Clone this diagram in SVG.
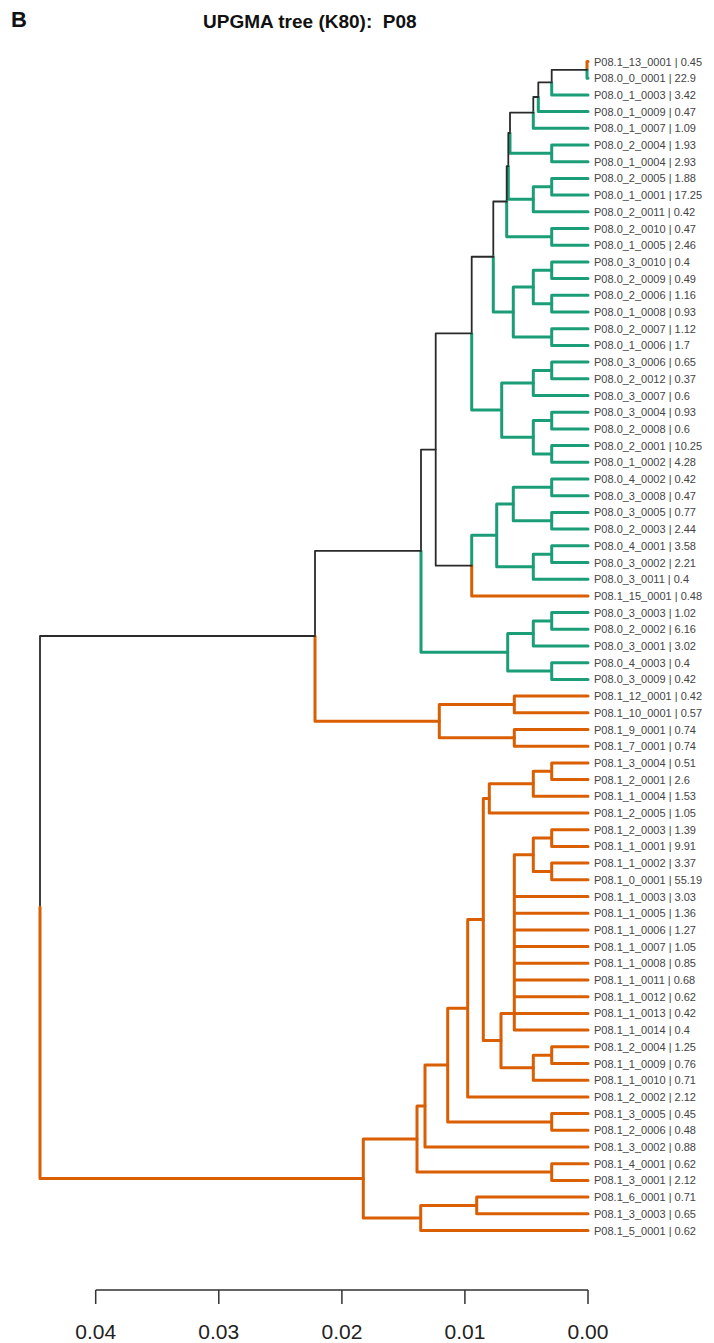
<svg xmlns="http://www.w3.org/2000/svg" width="714" height="1343" viewBox="0 0 714 1343">
<style>
.k{fill:none;stroke:#2a2a2a;stroke-width:1.8;stroke-linecap:round;stroke-linejoin:round}
.g{fill:none;stroke:#1B9E77;stroke-width:3;stroke-linecap:round;stroke-linejoin:round}
.o{fill:none;stroke:#D95F02;stroke-width:3;stroke-linecap:round;stroke-linejoin:round}
.lab{font-family:"Liberation Sans",Arial,sans-serif;font-size:11px;fill:#444}
.ttl{font-family:"Liberation Sans",Arial,sans-serif;font-weight:bold;fill:#111}
.ax{fill:none;stroke:#333;stroke-width:1.5}
.tk{font-family:"Liberation Sans",Arial,sans-serif;font-size:21px;fill:#222;text-anchor:middle}
</style>
<rect width="714" height="1343" fill="#fff"/>
<text class="ttl" x="11" y="27" font-size="22">B</text>
<text class="ttl" x="203" y="28" font-size="19" xml:space="preserve">UPGMA tree (K80):  P08</text>

<g id="connectors">
<!-- A -->
<path class="o" d="M587 69.85V61.5H588"/>
<path class="g" d="M587 69.85V78.2H588"/>
<!-- B -->
<path class="k" d="M551.7 82.4V69.85H587"/>
<path class="g" d="M551.7 82.4V94.9H588"/>
<!-- C -->
<path class="k" d="M538.3 97V82.4H551.7"/>
<path class="g" d="M538.3 97V111.6H588"/>
<!-- D -->
<path class="k" d="M533.3 112.65V97H538.3"/>
<path class="g" d="M533.3 112.65V128.3H588"/>
<!-- F -->
<path class="g" d="M551.7 153.35V145H588M551.7 153.35V161.7H588"/>
<!-- E -->
<path class="k" d="M510 133V112.65H533.3"/>
<path class="g" d="M510 133V153.35H551.7"/>
<!-- (8,9) and G -->
<path class="g" d="M551.7 186.75V178.4H588M551.7 186.75V195.1H588"/>
<path class="g" d="M533.3 199.28V186.75H551.7M533.3 199.28V211.8H588"/>
<!-- N1 -->
<path class="k" d="M508.3 166.14V133H510"/>
<path class="g" d="M508.3 166.14V199.28H533.3"/>
<!-- H -->
<path class="g" d="M551.7 236.85V228.5H588M551.7 236.85V245.2H588"/>
<!-- N2 -->
<path class="k" d="M506.7 201.5V166.14H508.3"/>
<path class="g" d="M506.7 201.5V236.85H551.7"/>
<!-- T1 -->
<path class="g" d="M551.7 270.25V261.9H588M551.7 270.25V278.6H588"/>
<path class="g" d="M551.7 303.65V295.3H588M551.7 303.65V312H588"/>
<path class="g" d="M533.3 286.95V270.25H551.7M533.3 286.95V303.65H551.7"/>
<path class="g" d="M551.7 337.05V328.7H588M551.7 337.05V345.4H588"/>
<path class="g" d="M513.3 312V286.95H533.3M513.3 312V337.05H551.7"/>
<!-- N3 -->
<path class="k" d="M493.3 256.75V201.5H506.7"/>
<path class="g" d="M493.3 256.75V312H513.3"/>
<!-- T2 -->
<path class="g" d="M551.7 370.45V362.1H588M551.7 370.45V378.8H588"/>
<path class="g" d="M533.3 382.98V370.45H551.7M533.3 382.98V395.5H588"/>
<path class="g" d="M551.7 420.55V412.2H588M551.7 420.55V428.9H588"/>
<path class="g" d="M551.7 453.95V445.6H588M551.7 453.95V462.3H588"/>
<path class="g" d="M533.3 437.25V420.55H551.7M533.3 437.25V453.95H551.7"/>
<path class="g" d="M501.7 410.1V382.98H533.3M501.7 410.1V437.25H533.3"/>
<!-- N4 -->
<path class="k" d="M471.7 333.43V256.75H493.3"/>
<path class="g" d="M471.7 333.43V410.1H501.7"/>
<!-- T3 -->
<path class="g" d="M551.7 487.35V479H588M551.7 487.35V495.7H588"/>
<path class="g" d="M551.7 520.75V512.4H588M551.7 520.75V529.1H588"/>
<path class="g" d="M513.3 504.05V487.35H551.7M513.3 504.05V520.75H551.7"/>
<path class="g" d="M551.7 554.15V545.8H588M551.7 554.15V562.5H588"/>
<path class="g" d="M533.3 566.68V554.15H551.7M533.3 566.68V579.2H588"/>
<path class="g" d="M496.7 535.36V504.05H513.3M496.7 535.36V566.68H533.3"/>
<!-- N6 -->
<path class="g" d="M471.7 565.63V535.36H496.7"/>
<path class="o" d="M471.7 565.63V595.9H588"/>
<!-- N5 -->
<path class="k" d="M435.7 449.53V333.43H471.7M435.7 449.53V565.63H471.7"/>
<!-- T4 -->
<path class="g" d="M551.7 620.95V612.6H588M551.7 620.95V629.3H588"/>
<path class="g" d="M533.3 633.48V620.95H551.7M533.3 633.48V646H588"/>
<path class="g" d="M551.7 671.05V662.7H588M551.7 671.05V679.4H588"/>
<path class="g" d="M507.7 652.26V633.48H533.3M507.7 652.26V671.05H551.7"/>
<!-- N7 -->
<path class="k" d="M421 550.9V449.53H435.7"/>
<path class="g" d="M421 550.9V652.26H507.7"/>
<!-- O1 -->
<path class="o" d="M514.3 704.45V696.1H588M514.3 704.45V712.8H588"/>
<path class="o" d="M514.3 737.85V729.5H588M514.3 737.85V746.2H588"/>
<path class="o" d="M439.3 721.15V704.45H514.3M439.3 721.15V737.85H514.3"/>
<!-- N8 -->
<path class="k" d="M315 636V550.9H421"/>
<path class="o" d="M315 636V721.15H439.3"/>
<!-- lower clade -->
<path class="o" d="M551.7 771.25V762.9H588M551.7 771.25V779.6H588"/>
<path class="o" d="M533.3 783.78V771.25H551.7M533.3 783.78V796.3H588"/>
<path class="o" d="M489.3 798.39V783.78H533.3M489.3 798.39V813H588"/>
<path class="o" d="M551.7 838.05V829.7H588M551.7 838.05V846.4H588"/>
<path class="o" d="M551.7 871.45V863.1H588M551.7 871.45V879.8H588"/>
<path class="o" d="M533.3 854.75V838.05H551.7M533.3 854.75V871.45H551.7"/>
<path class="o" d="M533.3 854.75H514.3V1030.1H588M514.3 896.5H588M514.3 913.2H588M514.3 929.9H588M514.3 946.6H588M514.3 963.3H588M514.3 980H588M514.3 996.7H588M514.3 1013.4H588"/>
<path class="o" d="M551.7 1055.15V1046.8H588M551.7 1055.15V1063.5H588"/>
<path class="o" d="M533.3 1067.68V1055.15H551.7M533.3 1067.68V1080.2H588"/>
<path class="o" d="M501 1040.54V1013.4H514.3M501 1040.54V1067.68H533.3"/>
<path class="o" d="M483.3 919.47V798.39H489.3M483.3 919.47V1040.54H501"/>
<path class="o" d="M467.7 1008.18V919.47H483.3M467.7 1008.18V1096.9H588"/>
<path class="o" d="M551.7 1121.95V1113.6H588M551.7 1121.95V1130.3H588"/>
<path class="o" d="M447.7 1065.07V1008.18H467.7M447.7 1065.07V1121.95H551.7"/>
<path class="o" d="M425 1106.03V1065.07H447.7M425 1106.03V1147H588"/>
<path class="o" d="M551.7 1172.05V1163.7H588M551.7 1172.05V1180.4H588"/>
<path class="o" d="M417 1139.04V1106.03H425M417 1139.04V1172.05H551.7"/>
<path class="o" d="M476.7 1205.45V1197.1H588M476.7 1205.45V1213.8H588"/>
<path class="o" d="M420.7 1217.98V1205.45H476.7M420.7 1217.98V1230.5H588"/>
<path class="o" d="M363.3 1178.51V1139.04H417M363.3 1178.51V1217.98H420.7"/>
<!-- root -->
<path class="k" d="M40 907.25V636H315"/>
<path class="o" d="M40 907.25V1178.51H363.3"/>
</g>

<g id="leaves">
<g id="leaf1"><text class="lab" x="594" y="65.5">P08.1_13_0001 | 0.45</text></g>
<g id="leaf2"><text class="lab" x="594" y="82.2">P08.0_0_0001 | 22.9</text></g>
<g id="leaf3"><text class="lab" x="594" y="98.9">P08.0_1_0003 | 3.42</text></g>
<g id="leaf4"><text class="lab" x="594" y="115.6">P08.0_1_0009 | 0.47</text></g>
<g id="leaf5"><text class="lab" x="594" y="132.3">P08.0_1_0007 | 1.09</text></g>
<g id="leaf6"><text class="lab" x="594" y="149">P08.0_2_0004 | 1.93</text></g>
<g id="leaf7"><text class="lab" x="594" y="165.7">P08.0_1_0004 | 2.93</text></g>
<g id="leaf8"><text class="lab" x="594" y="182.4">P08.0_2_0005 | 1.88</text></g>
<g id="leaf9"><text class="lab" x="594" y="199.1">P08.0_1_0001 | 17.25</text></g>
<g id="leaf10"><text class="lab" x="594" y="215.8">P08.0_2_0011 | 0.42</text></g>
<g id="leaf11"><text class="lab" x="594" y="232.5">P08.0_2_0010 | 0.47</text></g>
<g id="leaf12"><text class="lab" x="594" y="249.2">P08.0_1_0005 | 2.46</text></g>
<g id="leaf13"><text class="lab" x="594" y="265.9">P08.0_3_0010 | 0.4</text></g>
<g id="leaf14"><text class="lab" x="594" y="282.6">P08.0_2_0009 | 0.49</text></g>
<g id="leaf15"><text class="lab" x="594" y="299.3">P08.0_2_0006 | 1.16</text></g>
<g id="leaf16"><text class="lab" x="594" y="316">P08.0_1_0008 | 0.93</text></g>
<g id="leaf17"><text class="lab" x="594" y="332.7">P08.0_2_0007 | 1.12</text></g>
<g id="leaf18"><text class="lab" x="594" y="349.4">P08.0_1_0006 | 1.7</text></g>
<g id="leaf19"><text class="lab" x="594" y="366.1">P08.0_3_0006 | 0.65</text></g>
<g id="leaf20"><text class="lab" x="594" y="382.8">P08.0_2_0012 | 0.37</text></g>
<g id="leaf21"><text class="lab" x="594" y="399.5">P08.0_3_0007 | 0.6</text></g>
<g id="leaf22"><text class="lab" x="594" y="416.2">P08.0_3_0004 | 0.93</text></g>
<g id="leaf23"><text class="lab" x="594" y="432.9">P08.0_2_0008 | 0.6</text></g>
<g id="leaf24"><text class="lab" x="594" y="449.6">P08.0_2_0001 | 10.25</text></g>
<g id="leaf25"><text class="lab" x="594" y="466.3">P08.0_1_0002 | 4.28</text></g>
<g id="leaf26"><text class="lab" x="594" y="483">P08.0_4_0002 | 0.42</text></g>
<g id="leaf27"><text class="lab" x="594" y="499.7">P08.0_3_0008 | 0.47</text></g>
<g id="leaf28"><text class="lab" x="594" y="516.4">P08.0_3_0005 | 0.77</text></g>
<g id="leaf29"><text class="lab" x="594" y="533.1">P08.0_2_0003 | 2.44</text></g>
<g id="leaf30"><text class="lab" x="594" y="549.8">P08.0_4_0001 | 3.58</text></g>
<g id="leaf31"><text class="lab" x="594" y="566.5">P08.0_3_0002 | 2.21</text></g>
<g id="leaf32"><text class="lab" x="594" y="583.2">P08.0_3_0011 | 0.4</text></g>
<g id="leaf33"><text class="lab" x="594" y="599.9">P08.1_15_0001 | 0.48</text></g>
<g id="leaf34"><text class="lab" x="594" y="616.6">P08.0_3_0003 | 1.02</text></g>
<g id="leaf35"><text class="lab" x="594" y="633.3">P08.0_2_0002 | 6.16</text></g>
<g id="leaf36"><text class="lab" x="594" y="650">P08.0_3_0001 | 3.02</text></g>
<g id="leaf37"><text class="lab" x="594" y="666.7">P08.0_4_0003 | 0.4</text></g>
<g id="leaf38"><text class="lab" x="594" y="683.4">P08.0_3_0009 | 0.42</text></g>
<g id="leaf39"><text class="lab" x="594" y="700.1">P08.1_12_0001 | 0.42</text></g>
<g id="leaf40"><text class="lab" x="594" y="716.8">P08.1_10_0001 | 0.57</text></g>
<g id="leaf41"><text class="lab" x="594" y="733.5">P08.1_9_0001 | 0.74</text></g>
<g id="leaf42"><text class="lab" x="594" y="750.2">P08.1_7_0001 | 0.74</text></g>
<g id="leaf43"><text class="lab" x="594" y="766.9">P08.1_3_0004 | 0.51</text></g>
<g id="leaf44"><text class="lab" x="594" y="783.6">P08.1_2_0001 | 2.6</text></g>
<g id="leaf45"><text class="lab" x="594" y="800.3">P08.1_1_0004 | 1.53</text></g>
<g id="leaf46"><text class="lab" x="594" y="817">P08.1_2_0005 | 1.05</text></g>
<g id="leaf47"><text class="lab" x="594" y="833.7">P08.1_2_0003 | 1.39</text></g>
<g id="leaf48"><text class="lab" x="594" y="850.4">P08.1_1_0001 | 9.91</text></g>
<g id="leaf49"><text class="lab" x="594" y="867.1">P08.1_1_0002 | 3.37</text></g>
<g id="leaf50"><text class="lab" x="594" y="883.8">P08.1_0_0001 | 55.19</text></g>
<g id="leaf51"><text class="lab" x="594" y="900.5">P08.1_1_0003 | 3.03</text></g>
<g id="leaf52"><text class="lab" x="594" y="917.2">P08.1_1_0005 | 1.36</text></g>
<g id="leaf53"><text class="lab" x="594" y="933.9">P08.1_1_0006 | 1.27</text></g>
<g id="leaf54"><text class="lab" x="594" y="950.6">P08.1_1_0007 | 1.05</text></g>
<g id="leaf55"><text class="lab" x="594" y="967.3">P08.1_1_0008 | 0.85</text></g>
<g id="leaf56"><text class="lab" x="594" y="984">P08.1_1_0011 | 0.68</text></g>
<g id="leaf57"><text class="lab" x="594" y="1000.7">P08.1_1_0012 | 0.62</text></g>
<g id="leaf58"><text class="lab" x="594" y="1017.4">P08.1_1_0013 | 0.42</text></g>
<g id="leaf59"><text class="lab" x="594" y="1034.1">P08.1_1_0014 | 0.4</text></g>
<g id="leaf60"><text class="lab" x="594" y="1050.8">P08.1_2_0004 | 1.25</text></g>
<g id="leaf61"><text class="lab" x="594" y="1067.5">P08.1_1_0009 | 0.76</text></g>
<g id="leaf62"><text class="lab" x="594" y="1084.2">P08.1_1_0010 | 0.71</text></g>
<g id="leaf63"><text class="lab" x="594" y="1100.9">P08.1_2_0002 | 2.12</text></g>
<g id="leaf64"><text class="lab" x="594" y="1117.6">P08.1_3_0005 | 0.45</text></g>
<g id="leaf65"><text class="lab" x="594" y="1134.3">P08.1_2_0006 | 0.48</text></g>
<g id="leaf66"><text class="lab" x="594" y="1151">P08.1_3_0002 | 0.88</text></g>
<g id="leaf67"><text class="lab" x="594" y="1167.7">P08.1_4_0001 | 0.62</text></g>
<g id="leaf68"><text class="lab" x="594" y="1184.4">P08.1_3_0001 | 2.12</text></g>
<g id="leaf69"><text class="lab" x="594" y="1201.1">P08.1_6_0001 | 0.71</text></g>
<g id="leaf70"><text class="lab" x="594" y="1217.8">P08.1_3_0003 | 0.65</text></g>
<g id="leaf71"><text class="lab" x="594" y="1234.5">P08.1_5_0001 | 0.62</text></g>
</g>

<g id="axis">
<path class="ax" d="M95.7 1290H588M95.7 1290V1304M218.8 1290V1304M341.9 1290V1304M464.9 1290V1304M588 1290V1304"/>
<text class="tk" x="95.7" y="1339">0.04</text>
<text class="tk" x="218.8" y="1339">0.03</text>
<text class="tk" x="341.9" y="1339">0.02</text>
<text class="tk" x="464.9" y="1339">0.01</text>
<text class="tk" x="588" y="1339">0.00</text>
</g>
</svg>
